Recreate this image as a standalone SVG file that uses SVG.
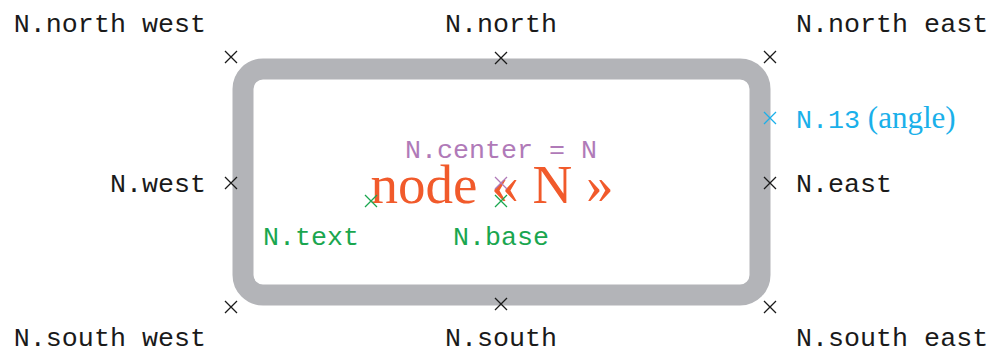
<svg xmlns="http://www.w3.org/2000/svg" width="995" height="353" viewBox="0 0 995 353">
<style>
.m{font-family:"Liberation Mono","DejaVu Sans Mono",monospace;font-size:26.7px}
.k{fill:#1a1a1a}
.x{stroke-width:1.3;fill:none}
.blk{stroke:#1a1a1a}
</style>
<defs>
<path id="cr" d="M-6,-6L6,6M-6,6L6,-6"/>
</defs>
<rect x="243" y="69" width="517" height="226" rx="20" ry="20" fill="#ffffff" stroke="#b3b4b8" stroke-width="21"/>
<g id="N">
<text x="492" y="203" text-anchor="middle" font-family="'Liberation Serif','Times New Roman',serif" font-size="55" fill="#f15a2b">node « N »</text>
</g>
<g id="anchors" class="x">
<use href="#cr" x="231" y="57" class="blk"/>
<use href="#cr" x="501" y="58" class="blk"/>
<use href="#cr" x="770" y="57" class="blk"/>
<use href="#cr" x="231" y="183" class="blk"/>
<use href="#cr" x="770" y="183" class="blk"/>
<use href="#cr" x="231" y="307" class="blk"/>
<use href="#cr" x="501" y="304" class="blk"/>
<use href="#cr" x="770" y="307" class="blk"/>
<use href="#cr" x="770" y="118" stroke="#1ab0ea"/>
<use href="#cr" x="501" y="183" stroke="#b07ab8"/>
<use href="#cr" x="501" y="201" stroke="#1aa64f"/>
<use href="#cr" x="371" y="201" stroke="#1aa64f"/>
</g>
<g id="labels">
<text class="m k" x="206" y="32" text-anchor="end">N.north west</text>
<text class="m k" x="501" y="32" text-anchor="middle">N.north</text>
<text class="m k" x="796" y="32">N.north east</text>
<text class="m k" x="206" y="192" text-anchor="end">N.west</text>
<text class="m k" x="796" y="192">N.east</text>
<text class="m k" x="206" y="346" text-anchor="end">N.south west</text>
<text class="m k" x="501" y="346" text-anchor="middle">N.south</text>
<text class="m k" x="796" y="346">N.south east</text>
<text x="796" y="128" fill="#1ab0ea"><tspan class="m">N.13</tspan><tspan font-family="'Liberation Serif','Times New Roman',serif" font-size="31"> (angle)</tspan></text>
<text class="m" x="501" y="158" text-anchor="middle" fill="#b07ab8">N.center = N</text>
<text class="m" x="311" y="245" text-anchor="middle" fill="#1aa64f">N.text</text>
<text class="m" x="501" y="245" text-anchor="middle" fill="#1aa64f">N.base</text>
</g>
</svg>
